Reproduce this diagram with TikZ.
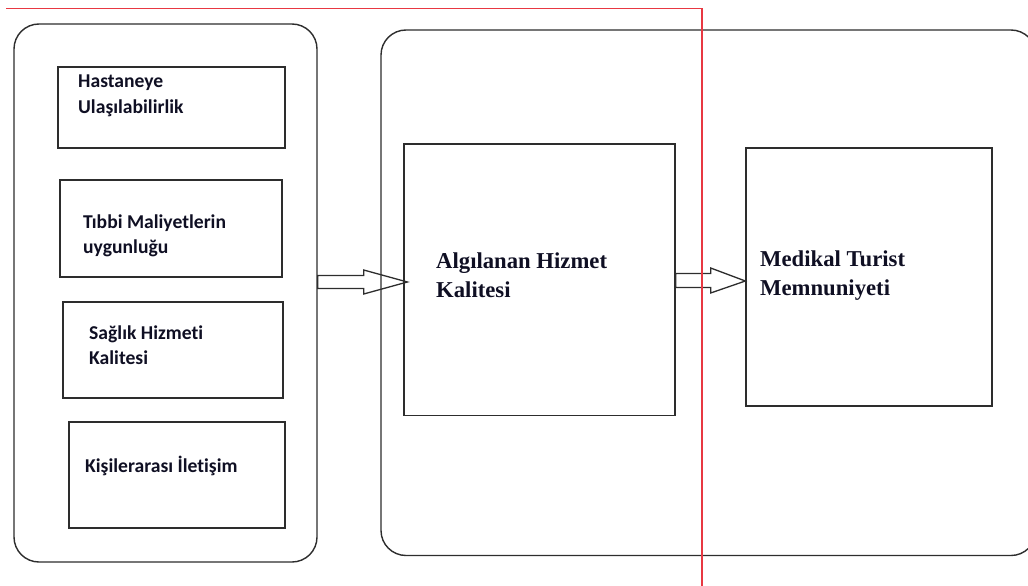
\documentclass[tikz,border=0pt]{standalone}
\usepackage{fontspec}
\setmainfont{Liberation Serif}
\newfontfamily\calfont[Ligatures={NoCommon}]{Carlito}
\usetikzlibrary{calc}
\definecolor{redline}{RGB}{232,56,66}
\definecolor{ink}{RGB}{45,45,45}
\definecolor{txt}{RGB}{15,15,35}
\newcommand\mylines[1]{\begin{tabular}[t]{@{}l@{}}#1\end{tabular}}
\tikzset{
  outer/.style={draw=ink, line width=1.4pt, rounded corners=25pt, inner sep=0pt},
  box/.style={draw=ink, line width=1.3pt, inner sep=0pt},
  smalltxt/.style={inner sep=0pt, anchor=base west, text=txt, font=\calfont\bfseries\fontsize{19.6}{25}\selectfont},
  bigtxt/.style={inner sep=0pt, anchor=base west, text=txt, font=\bfseries\fontsize{22.7}{29}\selectfont},
  blockarrow/.style={draw=ink, line width=1.3pt, line join=miter},
}
\begin{document}
\begin{tikzpicture}[x=1pt,y=-1pt]
\useasboundingbox (0,0) rectangle (1028,586);
% containers
\node[outer, minimum width=303pt, minimum height=538pt] (L) at (165.5,293) {};
\node[outer, minimum width=655pt, minimum height=525.5pt] (R) at (708.5,292.75) {};
% left boxes
\node[box, minimum width=227pt, minimum height=81pt] (B1) at (171.5,107.5) {};
\node[box, minimum width=222pt, minimum height=97pt] (B2) at (171,228.5) {};
\node[box, minimum width=220pt, minimum height=96pt] (B3) at (173,350) {};
\node[box, minimum width=216pt, minimum height=106pt] (B4) at (177,475) {};
% right boxes
\node[box, minimum width=271pt, minimum height=271.5pt] (A) at (539.5,279.75) {};
\node[box, minimum width=246pt, minimum height=258pt] (M) at (869,277) {};
% texts
\node[smalltxt] (T1) at (78,88) {\mylines{Hastaneye\\Ulaşılabilirlik}};
\node[smalltxt] (T2) at (83,228) {\mylines{Tıbbi Maliyetlerin\\uygunluğu}};
\node[smalltxt] (T3) at (89,339) {\mylines{Sağlık Hizmeti\\Kalitesi}};
\node[smalltxt] (T4) at (85,472) {Kişilerarası İletişim};
\node[bigtxt] (TA) at (436,268) {\mylines{Algılanan Hizmet\\Kalitesi}};
\node[bigtxt] (TM) at (760,266) {\mylines{Medikal Turist\\Memnuniyeti}};
% block arrows
\coordinate (P1) at ($(A.west)+(4,2.25)$);
\coordinate (S1) at (L.east |- P1);
\draw[blockarrow] ($(S1)+(0,-6.5)$) -- ($(S1)+(46,-6.5)$) -- ($(S1)+(46,-12)$)
  -- (P1) -- ($(S1)+(46,12)$) -- ($(S1)+(46,6.5)$) -- ($(S1)+(0,6.5)$) -- cycle;
\coordinate (P2) at ($(M.west)+(0,4)$);
\coordinate (S2) at (A.east |- P2);
\draw[blockarrow] ($(S2)+(0,-7.5)$) -- ($(S2)+(35,-7.5)$) -- ($(S2)+(35,-13)$)
  -- (P2) -- ($(S2)+(35,12)$) -- ($(S2)+(35,6.5)$) -- ($(S2)+(0,6.5)$) -- cycle;
% red line
\coordinate (RL0) at (6,8.5);
\coordinate (RL1) at (702,8.5);
\coordinate (RL2) at (702,586);
\draw[redline, line width=1.8pt] (RL0) -- (RL1) -- (RL2);
\end{tikzpicture}
\end{document}
